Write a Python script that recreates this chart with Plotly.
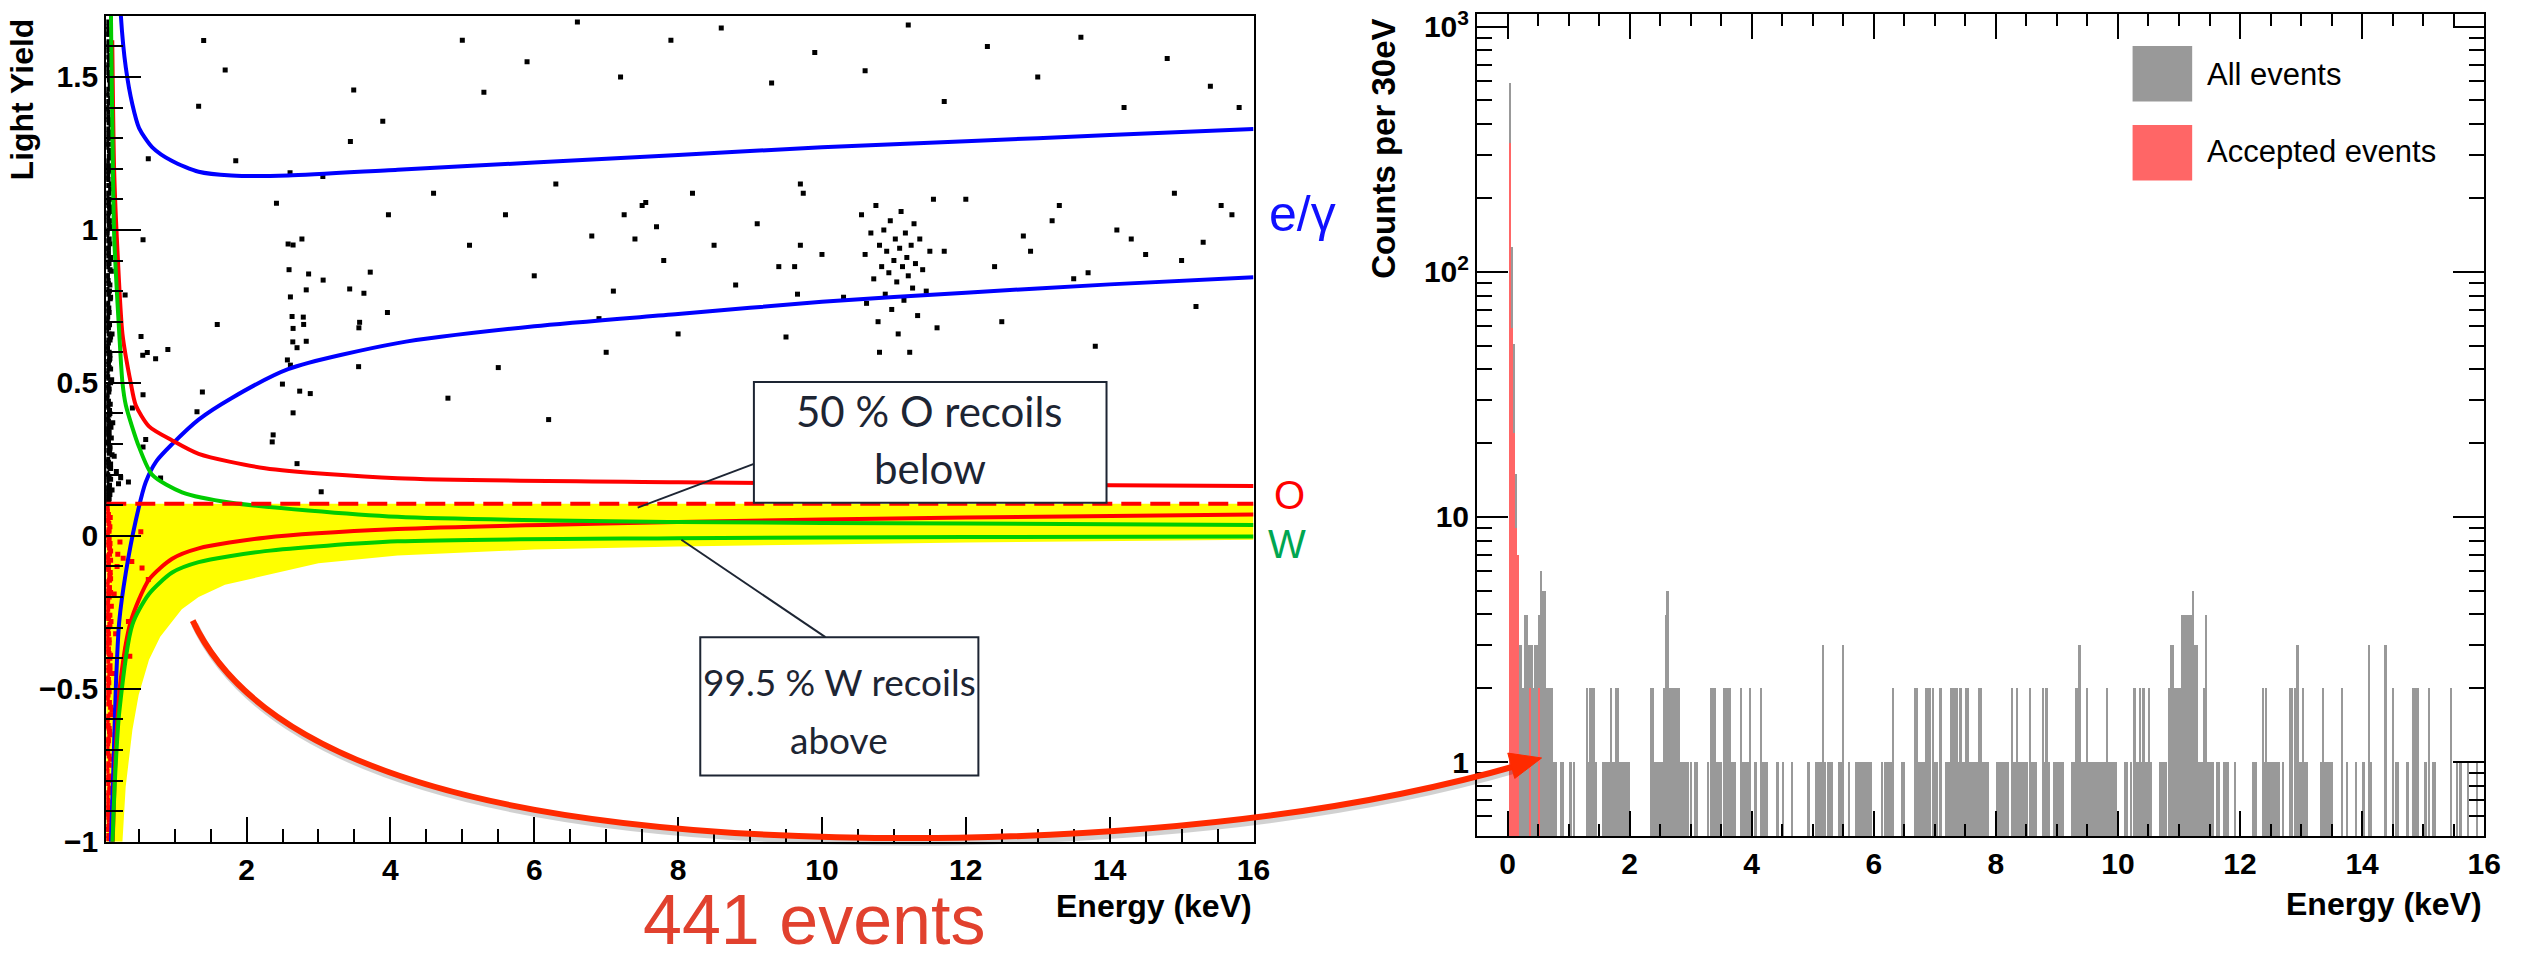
import plotly.graph_objects as go

W, H = 2531, 961

def px(x):
    return x / W

def py(y):
    return 1 - y / H

# ---------------- DATA ----------------
# Band curves (Energy keV, Light Yield)
blue_up_E = [0.23, 0.253, 0.322, 0.413, 0.506, 0.69, 0.966, 1.334, 1.79, 2.578, 4.1, 6, 8, 10, 12, 14, 16]
blue_up_LY = [1.85, 1.70, 1.53, 1.41, 1.333, 1.27, 1.225, 1.19, 1.178, 1.178, 1.197, 1.22, 1.245, 1.27, 1.29, 1.31, 1.33]
blue_lo_E = [0.11, 0.115, 0.15, 0.184, 0.23, 0.322, 0.46, 0.598, 0.75, 0.966, 1.334, 1.79, 2.578, 4.1, 6, 8, 10, 12, 14, 16]
blue_lo_LY = [-1.1, -1.0, -0.75, -0.485, -0.28, -0.12, 0.05, 0.175, 0.245, 0.30, 0.38, 0.45, 0.545, 0.63, 0.685, 0.725, 0.765, 0.795, 0.822, 0.845]
red_up_E = [0.133, 0.16, 0.206, 0.275, 0.39, 0.46, 0.644, 0.966, 1.334, 2.256, 4.1, 8, 12, 16]
red_up_LY = [1.62, 1.19, 0.93, 0.66, 0.50, 0.427, 0.358, 0.312, 0.268, 0.221, 0.188, 0.175, 0.168, 0.163]
red_lo_E = [0.13, 0.14, 0.184, 0.25, 0.39, 0.644, 0.966, 1.334, 2.256, 4.1, 8, 12, 16]
red_lo_LY = [-1.1, -1.0, -0.69, -0.47, -0.28, -0.143, -0.075, -0.041, -0.006, 0.022, 0.045, 0.06, 0.07]
green_up_E = [0.113, 0.115, 0.13, 0.16, 0.23, 0.275, 0.322, 0.506, 0.69, 1.104, 1.79, 4.1, 8, 12, 16]
green_up_LY = [1.85, 1.70, 1.41, 0.98, 0.663, 0.50, 0.427, 0.29, 0.199, 0.142, 0.108, 0.062, 0.045, 0.04, 0.035]
green_lo_E = [0.13, 0.137, 0.17, 0.23, 0.413, 0.644, 0.966, 1.334, 2.256, 4.1, 8, 12, 16]
green_lo_LY = [-1.1, -1.0, -0.8, -0.577, -0.29, -0.19, -0.12, -0.086, -0.05, -0.018, -0.008, -0.004, -0.002]
cut_E = [0.05, 16]
cut_LY = [0.105, 0.105]
yellow_lo_E = [0.275, 0.32, 0.36, 0.413, 0.5, 0.644, 0.8, 0.966, 1.1, 1.334, 1.7, 2.256, 3.0, 4.1, 6, 8, 10, 12, 14, 16]
yellow_lo_LY = [-1.0, -0.82, -0.74, -0.635, -0.52, -0.405, -0.33, -0.28, -0.24, -0.20, -0.16, -0.13, -0.09, -0.064, -0.045, -0.035, -0.028, -0.022, -0.017, -0.013]

# Scatter: events above the cut (black)
blk_E = [1.404, 1.703, 1.334, 0.634, 1.85, 3.49, 3.894, 3.444, 2.605, 3.061, 2.416, 3.973, 0.561, 2.578, 2.647,
         2.77, 2.591, 2.863, 3.065, 3.72, 3.434, 3.632, 2.83, 2.61, 0.312, 1.593, 2.633, 2.789, 2.794, 2.647,
         3.959, 3.572, 3.562, 0.533, 0.557, 0.62, 0.736, 0.906, 2.643, 2.83, 2.702, 2.568, 2.61, 3.558, 2.499,
         2.739, 2.886, 1.386, 0.561, 1.311, 2.647, 2.37, 2.357, 2.702, 0.598, 0.561, 0.805, 0.358, 3.038, 0.413,
         5.0, 5.3, 5.9, 6.6, 7.2, 7.9, 8.6, 9.3, 9.9, 10.6, 11.2, 11.7, 12.3, 13.0, 13.6, 14.2, 14.8, 15.4, 15.8,
         4.6, 5.1, 5.6, 6.0, 6.3, 6.8, 7.1, 7.5, 7.8, 8.2, 8.5, 8.8, 9.1, 9.4, 9.7, 10.0, 10.3,
         11.7, 12.0, 12.4, 12.8, 13.3, 13.7, 14.1, 14.5, 14.9, 15.3, 15.7, 4.8, 5.5, 6.2, 7.0, 9.5, 10.8, 12.5, 13.8, 15.2,
         7.25, 7.4, 7.55, 7.7, 9.62, 9.66, 9.7, 9.74, 12.9, 13.2, 13.5, 14.3, 15.0, 15.55, 6.9, 8.0]
blk_LY = [1.619, 1.523, 1.404, 1.233, 1.226, 1.457, 1.355, 1.289, 1.187, 1.175, 1.087, 1.050, 0.968, 0.954, 0.951,
          0.970, 0.870, 0.856, 0.836, 0.862, 0.807, 0.793, 0.804, 0.781, 0.787, 0.691, 0.717, 0.715, 0.691, 0.678,
          0.730, 0.698, 0.680, 0.652, 0.590, 0.599, 0.579, 0.609, 0.634, 0.636, 0.615, 0.575, 0.558, 0.553, 0.496,
          0.473, 0.465, 0.470, 0.461, 0.406, 0.402, 0.330, 0.307, 0.236, 0.315, 0.290, 0.189, 0.176, 0.144, 0.418,
          1.62, 1.45, 1.55, 1.68, 1.50, 1.62, 1.66, 1.48, 1.58, 1.52, 1.67, 1.42, 1.60, 1.50, 1.63, 1.40, 1.56, 1.47, 1.40,
          1.12, 0.95, 1.05, 0.85, 1.15, 0.98, 0.80, 1.08, 0.90, 1.12, 0.95, 0.82, 1.02, 0.88, 1.15, 0.92, 0.78,
          0.93, 1.10, 0.88, 0.98, 1.08, 0.86, 1.00, 0.92, 1.12, 0.96, 1.05, 0.45, 0.55, 0.38, 0.60, 0.65, 0.60, 0.70, 0.62, 0.75,
          1.05, 0.97, 1.09, 1.01, 0.88, 0.79, 0.95, 1.12, 0.93, 1.03, 0.84, 0.97, 0.90, 1.08, 0.71, 0.66]
# cluster of events near 11 keV (black)
clu_E = [10.55, 10.6, 10.62, 10.68, 10.72, 10.75, 10.78, 10.8, 10.83, 10.86, 10.88, 10.9, 10.93, 10.95, 10.97,
         11.0, 11.02, 11.04, 11.06, 11.08, 11.1, 11.12, 11.14, 11.16, 11.18, 11.2, 11.22, 11.24, 11.26, 11.28,
         11.3, 11.33, 11.36, 11.4, 11.45, 11.5, 11.55, 11.6]
clu_LY = [1.05, 0.92, 0.76, 0.99, 0.84, 1.08, 0.70, 0.95, 0.88, 1.00, 0.79, 0.93, 0.86, 1.03, 0.74,
          0.90, 0.97, 0.83, 0.66, 0.94, 1.06, 0.88, 0.77, 0.99, 0.91, 0.85, 0.60, 0.95, 0.81, 1.02,
          0.89, 0.72, 0.97, 0.87, 0.80, 0.93, 1.10, 0.68]
# dense low-energy column above the cut (black)
col_E = [0.06, 0.08, 0.07, 0.10, 0.06, 0.09, 0.07, 0.11, 0.06, 0.08, 0.07, 0.10, 0.06, 0.09, 0.08, 0.07, 0.12,
         0.06, 0.08, 0.10, 0.07, 0.06, 0.09, 0.08, 0.11, 0.07, 0.06, 0.10, 0.08, 0.07, 0.09, 0.06, 0.08, 0.13,
         0.07, 0.06, 0.09, 0.10, 0.08, 0.06, 0.07, 0.11, 0.09, 0.06, 0.08, 0.07, 0.10, 0.06, 0.14, 0.08, 0.07,
         0.09, 0.06, 0.12, 0.08, 0.07, 0.10, 0.06, 0.09, 0.16, 0.07, 0.08, 0.06, 0.11, 0.19, 0.07, 0.09, 0.06,
         0.22, 0.08, 0.10, 0.07, 0.06, 0.09, 0.13, 0.08, 0.25, 0.07, 0.06, 0.10,
         0.065, 0.085, 0.055, 0.095, 0.075, 0.105, 0.06, 0.09, 0.07, 0.115, 0.08, 0.055, 0.1, 0.065, 0.085, 0.075,
         0.11, 0.06, 0.095, 0.07, 0.09, 0.055, 0.1, 0.08, 0.065, 0.12, 0.075, 0.06, 0.105, 0.085, 0.07, 0.095,
         0.055, 0.11, 0.08, 0.065, 0.1, 0.075, 0.09, 0.06, 0.125, 0.07, 0.085, 0.055, 0.105, 0.095, 0.065, 0.08,
         0.115, 0.06, 0.09, 0.075, 0.1, 0.13, 0.07, 0.085, 0.055, 0.11, 0.095, 0.065,
         0.058, 0.072, 0.088, 0.102, 0.066, 0.08, 0.094, 0.11, 0.062, 0.076,
         0.058, 0.072, 0.088, 0.102, 0.066, 0.08, 0.094, 0.11, 0.062, 0.076,
         0.058, 0.072, 0.088, 0.102, 0.066, 0.08, 0.094, 0.11, 0.062, 0.076,
         0.058, 0.072, 0.088, 0.102, 0.066, 0.08, 0.094, 0.11, 0.062, 0.076,
         0.058, 0.072, 0.088, 0.102, 0.066, 0.08, 0.094, 0.11, 0.062, 0.076,
         0.058, 0.072, 0.088, 0.102, 0.066, 0.08, 0.094, 0.11, 0.062, 0.076]
col_LY = [1.68, 1.64, 1.60, 1.57, 1.53, 1.50, 1.46, 1.43, 1.40, 1.36, 1.33, 1.30, 1.27, 1.24, 1.21, 1.18, 1.15,
          1.12, 1.09, 1.06, 1.03, 1.00, 0.97, 0.94, 0.91, 0.88, 0.85, 0.82, 0.79, 0.76, 0.73, 0.70, 0.68, 0.66,
          0.64, 0.62, 0.60, 0.58, 0.56, 0.54, 0.52, 0.50, 0.48, 0.46, 0.44, 0.42, 0.40, 0.38, 0.37, 0.36, 0.35,
          0.34, 0.33, 0.32, 0.31, 0.30, 0.29, 0.28, 0.27, 0.26, 0.25, 0.24, 0.23, 0.22, 0.21, 0.20, 0.19, 0.18,
          0.17, 0.16, 0.15, 0.14, 0.13, 0.12, 0.15, 0.11, 0.19, 0.125, 0.115, 0.135,
          1.655, 1.615, 1.585, 1.555, 1.515, 1.475, 1.445, 1.415, 1.385, 1.345, 1.315, 1.285, 1.255, 1.225, 1.195, 1.165,
          1.135, 1.105, 1.075, 1.045, 1.015, 0.985, 0.955, 0.925, 0.895, 0.865, 0.835, 0.805, 0.775, 0.745, 0.715, 0.69,
          0.67, 0.65, 0.63, 0.61, 0.59, 0.57, 0.55, 0.53, 0.51, 0.49, 0.47, 0.45, 0.43, 0.41, 0.39, 0.375,
          0.355, 0.345, 0.325, 0.305, 0.285, 0.265, 0.245, 0.225, 0.205, 0.185, 0.165, 0.145,
          1.665, 1.64, 1.61, 1.59, 1.565, 1.54, 1.49, 1.465, 1.44, 1.42,
          1.395, 1.37, 1.35, 1.32, 1.30, 1.28, 1.26, 1.235, 1.21, 1.19,
          1.17, 1.145, 1.12, 1.10, 1.08, 1.055, 1.03, 1.01, 0.99, 0.965,
          0.94, 0.915, 0.89, 0.87, 0.85, 0.825, 0.80, 0.78, 0.755, 0.735,
          0.71, 0.685, 0.66, 0.64, 0.615, 0.595, 0.575, 0.545, 0.515, 0.485,
          0.455, 0.425, 0.395, 0.365, 0.335, 0.305, 0.275, 0.235, 0.195, 0.155]

# Scatter: accepted events below the cut (red)
acc_E = [0.06, 0.08, 0.07, 0.10, 0.06, 0.09, 0.07, 0.11, 0.06, 0.08, 0.07, 0.10, 0.06, 0.09, 0.08, 0.07,
         0.12, 0.06, 0.08, 0.10, 0.07, 0.06, 0.09, 0.08, 0.11, 0.07, 0.06, 0.10, 0.08, 0.07, 0.09, 0.06,
         0.08, 0.13, 0.07, 0.06, 0.09, 0.10, 0.08, 0.06, 0.07, 0.11, 0.09, 0.06, 0.08, 0.07, 0.10, 0.06,
         0.14, 0.08, 0.07, 0.09, 0.06, 0.12, 0.08, 0.07,
         0.53, 0.285, 0.405, 0.547, 0.634, 0.358, 0.377, 0.327, 0.16, 0.2, 0.24, 0.15, 0.18, 0.21,
         0.065, 0.085, 0.055, 0.095, 0.075, 0.105, 0.06, 0.09, 0.07, 0.115, 0.08, 0.055, 0.1, 0.065, 0.085, 0.075,
         0.11, 0.06, 0.095, 0.07, 0.09, 0.055, 0.1, 0.08, 0.065, 0.12, 0.075, 0.06, 0.105, 0.085, 0.07, 0.095,
         0.055, 0.11, 0.08, 0.065, 0.1, 0.075, 0.09, 0.06,
         0.058, 0.072, 0.088, 0.102, 0.066, 0.08, 0.094, 0.11, 0.062, 0.076,
         0.058, 0.072, 0.088, 0.102, 0.066, 0.08, 0.094, 0.11, 0.062, 0.076,
         0.058, 0.072, 0.088, 0.102, 0.066, 0.08, 0.094, 0.11, 0.062, 0.076,
         0.058, 0.072, 0.088, 0.102, 0.066, 0.08, 0.094, 0.11, 0.062, 0.076]
acc_LY = [0.09, 0.07, 0.05, 0.03, 0.01, -0.01, -0.03, -0.05, -0.07, -0.09, -0.11, -0.13, -0.15, -0.17, -0.19, -0.21,
          -0.23, -0.25, -0.27, -0.29, -0.31, -0.33, -0.35, -0.37, -0.39, -0.41, -0.43, -0.45, -0.47, -0.49, -0.51, -0.53,
          -0.55, -0.57, -0.59, -0.61, -0.63, -0.65, -0.67, -0.69, -0.71, -0.73, -0.75, -0.77, -0.79, -0.81, -0.83, -0.85,
          -0.87, -0.89, -0.91, -0.93, -0.95, -0.97, -0.99, -0.96,
          0.013, -0.073, -0.084, -0.105, -0.143, -0.28, -0.394, -0.37, -0.19, -0.10, -0.02, -0.45, -0.32, -0.06,
          0.08, 0.04, 0.0, -0.04, -0.08, -0.12, -0.16, -0.2, -0.24, -0.28, -0.32, -0.36, -0.4, -0.44, -0.48, -0.52,
          -0.56, -0.6, -0.64, -0.68, -0.72, -0.76, -0.8, -0.84, -0.88, -0.92, -0.96, -0.98, 0.06, 0.02, -0.02, -0.06,
          -0.1, -0.14, -0.18, -0.22, -0.26, -0.3, -0.34, -0.38,
          0.095, 0.055, 0.015, -0.025, -0.065, -0.105, -0.145, -0.185, -0.225, -0.265,
          -0.305, -0.345, -0.385, -0.425, -0.465, -0.505, -0.545, -0.585, -0.625, -0.665,
          -0.705, -0.745, -0.785, -0.825, -0.865, -0.905, -0.945, -0.985, -0.53, -0.62,
          -0.71, -0.8, -0.89, -0.44, -0.35, -0.26, -0.17, -0.08, 0.0, -0.92]

# Histogram (30 eV bins): bin centres (keV) and counts
all_E = [0.045, 0.075, 0.105, 0.135, 0.165, 0.195, 0.225, 0.255, 0.285, 0.315, 0.345, 0.375, 0.405, 0.435, 0.465,
         0.495, 0.525, 0.555, 0.585, 0.615, 0.645, 0.675, 0.705, 0.735, 0.765, 0.795, 0.885, 0.915, 1.035, 1.095,
         1.305, 1.335, 1.365, 1.395, 1.425, 1.455, 1.575, 1.605, 1.635, 1.665, 1.695, 1.725, 1.755, 1.785, 1.815,
         1.845, 1.875, 1.905, 1.935, 1.965, 1.995,
         2.355, 2.385, 2.415, 2.445, 2.475, 2.505, 2.535, 2.565, 2.595, 2.625, 2.655, 2.685, 2.715, 2.745, 2.775,
         2.805, 2.835, 2.865, 2.895, 2.925, 2.955, 3.015, 3.075, 3.105, 3.285, 3.345, 3.375, 3.405, 3.435, 3.465,
         3.495, 3.555, 3.585, 3.615,
         3.645, 3.675, 3.705, 3.735, 3.825, 3.855, 3.885, 3.915, 3.945, 3.975, 4.065, 4.155, 4.185, 4.215, 4.245,
         4.425, 4.515, 4.665, 4.935, 5.055, 5.085, 5.115, 5.145, 5.175, 5.205, 5.265, 5.295, 5.325, 5.445, 5.475,
         5.505, 5.595, 5.715, 5.745, 5.775, 5.805, 5.835, 5.865, 5.895, 5.925, 5.955, 6.135, 6.195, 6.225, 6.255,
         6.285, 6.315, 6.465, 6.495, 6.675, 6.705, 6.735, 6.765, 6.795, 6.825, 6.855, 6.885, 6.915, 6.975, 7.005,
         7.035, 7.095, 7.185, 7.215, 7.245, 7.275, 7.305, 7.335, 7.365, 7.395, 7.425, 7.455, 7.485, 7.515, 7.545,
         7.575, 7.605, 7.635, 7.665, 7.695, 7.725, 7.755, 7.785, 7.815, 7.845,
         7.875, 8.025, 8.055, 8.085, 8.115, 8.145, 8.175, 8.205, 8.265, 8.295, 8.325, 8.355, 8.385, 8.415, 8.445,
         8.475, 8.505, 8.565, 8.595, 8.625, 8.655, 8.775, 8.805, 8.835, 8.865, 8.955, 8.985, 9.015, 9.045, 9.075,
         9.105, 9.255, 9.285, 9.315, 9.345, 9.375, 9.405, 9.435, 9.465, 9.495, 9.525, 9.555, 9.585, 9.615, 9.645,
         9.675, 9.705, 9.735, 9.765, 9.795, 9.825, 9.855, 9.885, 9.915, 9.945, 9.975, 10.125, 10.155, 10.215,
         10.275, 10.305, 10.335, 10.365, 10.395, 10.425, 10.455, 10.485, 10.515, 10.545, 10.695, 10.725, 10.755,
         10.785, 10.845, 10.875, 10.905, 10.935, 10.965, 10.995, 11.025, 11.055, 11.085, 11.115, 11.145, 11.175,
         11.205, 11.235, 11.265, 11.295, 11.325, 11.355, 11.385, 11.415, 11.445, 11.475, 11.505, 11.535, 11.565,
         11.625, 11.655, 11.745, 11.775, 11.805, 11.925,
         12.225, 12.255, 12.375, 12.405, 12.435, 12.465, 12.495, 12.525, 12.555, 12.585, 12.615, 12.645, 12.705,
         12.825, 12.855, 12.915, 12.945, 12.975, 13.005, 13.035, 13.065, 13.095, 13.335, 13.365, 13.395, 13.425,
         13.455, 13.485, 13.515, 13.675, 13.755, 13.905, 14.025, 14.115, 14.145, 14.385, 14.505, 14.565, 14.595,
         14.745, 14.835, 14.865, 14.895, 14.925, 15.045, 15.105, 15.165, 15.195, 15.465, 15.555, 15.615, 15.735,
         15.885]
all_N = [590, 126, 51, 15, 7, 3, 3, 2, 4, 4, 3, 3, 3, 2, 3,
         3, 4, 6, 5, 5, 2, 2, 2, 2, 1, 1, 1, 1, 1, 1,
         2, 1, 2, 2, 2, 1, 1, 1, 1, 1, 2, 1, 1, 2, 2,
         1, 1, 1, 1, 1, 1,
         2, 2, 1, 1, 1, 1, 1, 2, 4, 5, 2, 2, 2, 2, 2,
         2, 1, 1, 1, 1, 1, 1, 1, 1, 1, 2, 2, 2, 1, 1,
         1, 2, 2, 2,
         2, 1, 1, 1, 2, 1, 1, 1, 1, 2, 1, 2, 1, 1, 1,
         1, 1, 1, 1, 1, 1, 1, 1, 3, 1, 1, 1, 1, 1, 1,
         3, 1, 1, 1, 1, 1, 1, 1, 1, 1, 1, 1, 1, 1, 1,
         1, 2, 1, 1, 2, 2, 1, 1, 1, 1, 2, 2, 2, 2, 1,
         1, 2, 1, 1, 1, 2, 2, 2, 2, 1, 2, 1, 1, 2, 2,
         1, 1, 1, 1, 1, 2, 2, 1, 1, 1,
         1, 1, 1, 1, 1, 1, 1, 1, 2, 1, 1, 2, 1, 1, 1,
         1, 1, 2, 1, 1, 1, 2, 1, 2, 1, 1, 1, 1, 1, 1,
         1, 1, 1, 2, 2, 3, 1, 1, 1, 2, 1, 1, 1, 1, 1,
         1, 1, 1, 1, 1, 2, 1, 1, 1, 1, 1, 1, 1, 1,
         2, 1, 1, 2, 1, 2, 1, 1, 2, 1, 1, 1, 1,
         1, 2, 3, 3, 2, 2, 2, 2, 4, 4, 4, 4, 4,
         4, 5, 3, 3, 1, 1, 1, 2, 4, 1, 1, 1, 1,
         1, 1, 1, 1, 1, 1,
         1, 1, 2, 1, 2, 1, 1, 1, 1, 1, 1, 1, 1,
         2, 2, 2, 3, 1, 1, 2, 1, 1, 1, 2, 1, 1,
         1, 1, 1, 2, 1, 1, 1, 3, 1, 3, 2, 1, 1,
         1, 2, 2, 2, 2, 1, 2, 1, 1, 2, 1, 1, 1,
         1]
acc_hist_E = [0.045, 0.075, 0.105, 0.135, 0.165, 0.375, 0.525]
acc_hist_N = [335, 59, 22, 9, 7, 2, 2]

y_tickvals = [-1, -0.5, 0, 0.5, 1, 1.5]
y_ticktext = ["\u22121", "\u22120.5", "0", "0.5", "1", "1.5"]
x_tickvals = [2, 4, 6, 8, 10, 12, 14, 16]
x2_tickvals = [0, 2, 4, 6, 8, 10, 12, 14, 16]
y2_tickvals = [1, 10, 100, 1000]
y2_ticktext = ["1", "10", "10<sup>2</sup>", "10<sup>3</sup>"]
y2_minor = [0.6, 0.7, 0.8, 0.9, 2, 3, 4, 5, 6, 7, 8, 9, 20, 30, 40, 50, 60, 70, 80, 90,
            200, 300, 400, 500, 600, 700, 800, 900]

# ---------------- FIGURE ----------------
fig = go.Figure()

# acceptance region (yellow)
poly_x = [cut_E[0], cut_E[1]] + yellow_lo_E[::-1] + [cut_E[0]]
poly_y = [cut_LY[0], cut_LY[1]] + yellow_lo_LY[::-1] + [-1.0]
fig.add_trace(go.Scatter(x=poly_x, y=poly_y, fill="toself", fillcolor="#FFFF00",
                         line=dict(width=0), mode="lines", hoverinfo="skip", showlegend=False))

fig.add_trace(go.Scatter(x=blk_E + clu_E + col_E, y=blk_LY + clu_LY + col_LY, mode="markers",
                         marker=dict(symbol="square", size=5, color="black", line=dict(width=0)),
                         showlegend=False))
fig.add_trace(go.Scatter(x=acc_E, y=acc_LY, mode="markers",
                         marker=dict(symbol="square", size=5, color="#FF0000", line=dict(width=0)),
                         showlegend=False))

def curve(xs, ys, color, dash="solid"):
    fig.add_trace(go.Scatter(x=xs, y=ys, mode="lines",
                             line=dict(color=color, width=4, shape="spline", smoothing=0.7, dash=dash),
                             showlegend=False, hoverinfo="skip"))

curve(blue_up_E, blue_up_LY, "#0000FF")
curve(blue_lo_E, blue_lo_LY, "#0000FF")
curve(red_up_E, red_up_LY, "#FF0000")
curve(red_lo_E, red_lo_LY, "#FF0000")
curve(green_up_E, green_up_LY, "#00CC00")
curve(green_lo_E, green_lo_LY, "#00CC00")
fig.add_trace(go.Scatter(x=cut_E, y=cut_LY, mode="lines",
                         line=dict(color="#FF0000", width=4, dash="20px,9px"),
                         showlegend=False, hoverinfo="skip"))

# histograms
fig.add_trace(go.Bar(x=all_E, y=all_N, width=0.03, marker=dict(color="#999999", line=dict(width=0)),
                     xaxis="x2", yaxis="y2", showlegend=False))
fig.add_trace(go.Bar(x=acc_hist_E, y=acc_hist_N, width=0.03, marker=dict(color="#FF6666", line=dict(width=0)),
                     xaxis="x2", yaxis="y2", showlegend=False))

tickfont = dict(family="Liberation Sans, Arial, sans-serif", size=30, color="black", weight="bold")

fig.update_layout(
    width=W, height=H, margin=dict(l=0, r=0, t=0, b=0),
    paper_bgcolor="white", plot_bgcolor="white", barmode="overlay", bargap=0,
    xaxis=dict(domain=[px(107), px(1262)], range=[0.05, 16], tickvals=x_tickvals,
               ticks="inside", ticklen=25, tickwidth=1.5, tickcolor="black",
               minor=dict(dtick=0.5, tick0=0, ticks="inside", ticklen=13, tickwidth=1.5, tickcolor="black"),
               showline=True, linecolor="black", linewidth=2, mirror=True,
               showgrid=False, zeroline=False, tickfont=tickfont, anchor="y", ticklabeloverflow="allow"),
    yaxis=dict(domain=[py(856), py(8)], range=[-1, 1.70], tickvals=y_tickvals, ticktext=y_ticktext,
               ticks="inside", ticklen=35, tickwidth=1.5, tickcolor="black",
               minor=dict(dtick=0.1, tick0=0, ticks="inside", ticklen=17, tickwidth=1.5, tickcolor="black"),
               showline=True, linecolor="black", linewidth=2, mirror=True,
               showgrid=False, zeroline=False, tickfont=tickfont, anchor="x", ticklabeloverflow="allow"),
    xaxis2=dict(domain=[px(1487), px(2501)], range=[-0.5, 16], tickvals=x2_tickvals,
                ticks="inside", ticklen=25, tickwidth=1.5, tickcolor="black",
                minor=dict(dtick=0.5, tick0=0, ticks="inside", ticklen=12, tickwidth=1.5, tickcolor="black"),
                showline=True, linecolor="black", linewidth=2, mirror="ticks",
                showgrid=False, zeroline=False, tickfont=tickfont, anchor="y2", ticklabeloverflow="allow"),
    yaxis2=dict(domain=[py(850), py(6)], type="log", range=[-0.301, 3.052],
                tickvals=y2_tickvals, ticktext=y2_ticktext,
                ticks="inside", ticklen=31, tickwidth=1.5, tickcolor="black",
                minor=dict(tickvals=y2_minor, ticks="inside", ticklen=15, tickwidth=1.5, tickcolor="black"),
                showline=True, linecolor="black", linewidth=2, mirror="ticks",
                showgrid=False, zeroline=False, tickfont=tickfont, anchor="x2", ticklabeloverflow="allow"),
)

ann = []
bold = dict(family="Liberation Sans, Arial, sans-serif", size=32, color="black", weight="bold")
ann.append(dict(text="Light Yield", x=px(22), y=py(94), xref="paper", yref="paper", textangle=-90,
                showarrow=False, font=bold, xanchor="center", yanchor="middle"))
ann.append(dict(text="Energy (keV)", x=px(1262), y=py(922), xref="paper", yref="paper",
                showarrow=False, font=bold, xanchor="right", yanchor="middle"))
ann.append(dict(text="Counts per 30eV", x=px(1393), y=py(145), xref="paper", yref="paper", textangle=-90,
                showarrow=False, font=dict(bold, size=33), xanchor="center", yanchor="middle"))
ann.append(dict(text="Energy (keV)", x=px(2501), y=py(920), xref="paper", yref="paper",
                showarrow=False, font=bold, xanchor="right", yanchor="middle"))
ann.append(dict(text="e/\u03b3", x=px(1276), y=py(212), xref="paper", yref="paper", showarrow=False,
                font=dict(family="Liberation Sans, Arial", size=50, color="#1010FF"), xanchor="left", yanchor="middle"))
ann.append(dict(text="O", x=px(1281), y=py(500), xref="paper", yref="paper", showarrow=False,
                font=dict(family="Liberation Sans, Arial", size=40, color="#FF0000"), xanchor="left", yanchor="middle"))
ann.append(dict(text="W", x=px(1275), y=py(550), xref="paper", yref="paper", showarrow=False,
                font=dict(family="Liberation Sans, Arial", size=40, color="#00A651"), xanchor="left", yanchor="middle"))
ann.append(dict(text="441 events", x=px(645), y=0, xref="paper", yref="paper", showarrow=False, yshift=-17,
                font=dict(family="Liberation Sans Narrow, Liberation Sans, Arial", size=70, color="#E1412E"),
                xanchor="left", yanchor="bottom"))
box_font1 = dict(family="Lato, Open Sans, sans-serif", size=42, color="#1D2533")
box_font2 = dict(family="Lato, Open Sans, sans-serif", size=37, color="#1D2533")
ann.append(dict(text="50 % O recoils", x=px(936), y=py(414), xref="paper", yref="paper", showarrow=False,
                font=box_font1, xanchor="center", yanchor="middle"))
ann.append(dict(text="below", x=px(936), y=py(472), xref="paper", yref="paper", showarrow=False,
                font=box_font1, xanchor="center", yanchor="middle"))
ann.append(dict(text="99.5 % W recoils", x=px(845), y=py(692), xref="paper", yref="paper", showarrow=False,
                font=box_font2, xanchor="center", yanchor="middle"))
ann.append(dict(text="above", x=px(845), y=py(751), xref="paper", yref="paper", showarrow=False,
                font=box_font2, xanchor="center", yanchor="middle"))
leg_font = dict(family="Liberation Sans, Arial", size=31, color="black")
ann.append(dict(text="All events", x=px(2220), y=py(68), xref="paper", yref="paper", showarrow=False,
                font=leg_font, xanchor="left", yanchor="middle"))
ann.append(dict(text="Accepted events", x=px(2220), y=py(147), xref="paper", yref="paper", showarrow=False,
                font=leg_font, xanchor="left", yanchor="middle"))
fig.update_layout(annotations=ann)

def P(x, y):
    return f"{px(x):.5f},{py(y):.5f}"

shapes = []
# curved red arrow (shadow + arrow + head)
arc = f"M {P(196,633)} Q {P(302,864)} {P(967,856)} Q {P(1302,849)} {P(1530,781)}"
arc_main = f"M {P(194,629)} Q {P(300,860)} {P(965,852)} Q {P(1300,845)} {P(1530,777)}"
head = f"M {P(1552,770)} L {P(1525,791)} L {P(1518,765)} Z"
shapes.append(dict(type="path", path=arc, xref="paper", yref="paper",
                   line=dict(color="rgba(0,0,0,0.18)", width=7)))
shapes.append(dict(type="path", path=arc_main, xref="paper", yref="paper",
                   line=dict(color="#FF2A00", width=6)))
shapes.append(dict(type="path", path=head, xref="paper", yref="paper",
                   line=dict(color="#FF2A00", width=1), fillcolor="#FF2A00"))
# text boxes
shapes.append(dict(type="rect", x0=px(759), x1=px(1114), y0=py(508), y1=py(384), xref="paper", yref="paper",
                   line=dict(color="#1D2533", width=2), fillcolor="white"))
shapes.append(dict(type="rect", x0=px(705), x1=px(985), y0=py(788), y1=py(646), xref="paper", yref="paper",
                   line=dict(color="#1D2533", width=2), fillcolor="white"))
shapes.append(dict(type="line", x0=px(759), y0=py(468), x1=px(642), y1=py(513), xref="paper", yref="paper",
                   line=dict(color="#1D2533", width=2)))
shapes.append(dict(type="line", x0=px(831), y0=py(646), x1=px(686), y1=py(546), xref="paper", yref="paper",
                   line=dict(color="#1D2533", width=2)))
# legend swatches
shapes.append(dict(type="rect", x0=px(2147), x1=px(2207), y0=py(96), y1=py(39), xref="paper", yref="paper",
                   line=dict(width=0), fillcolor="#999999"))
shapes.append(dict(type="rect", x0=px(2147), x1=px(2207), y0=py(177), y1=py(120), xref="paper", yref="paper",
                   line=dict(width=0), fillcolor="#FF6666"))
fig.update_layout(shapes=shapes)

fig.write_html("out.html")
